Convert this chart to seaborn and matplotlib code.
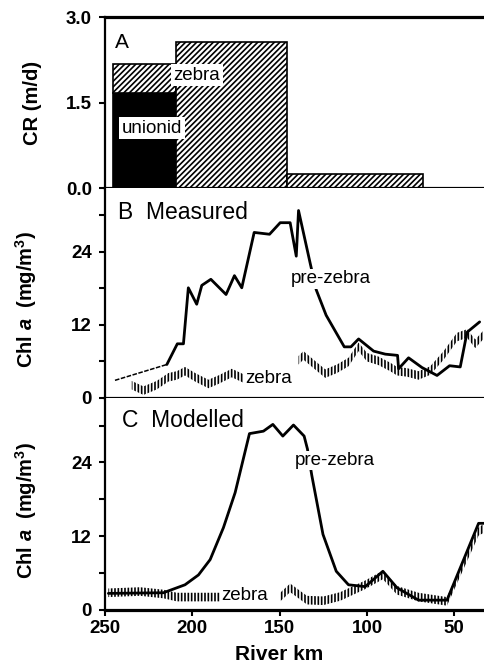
import numpy as np
import pandas as pd
import matplotlib
matplotlib.use("Agg")
import matplotlib.pyplot as plt
import seaborn as sns

# ---------------- data ----------------
# Panel A: clearance rate by river reach
reach_start_km = [245.4, 209.3, 145.7]
reach_end_km = [209.3, 145.7, 67.8]
unionid_cr = [1.67, 0.0, 0.0]
zebra_cr = [0.50, 2.56, 0.25]

# Panel B: measured chlorophyll a
meas_pre_km = [244.3, 214.6, 208.6, 205.1, 202.3, 197.5, 194.6, 189.4, 180.7, 175.9,
               171.7, 164.6, 155.8, 149.7, 144.0, 140.5, 139.2, 132.5, 129.1, 123.4,
               113.0, 109.2, 104.8, 96.2, 89.5, 82.5, 81.9, 76.2, 68.5, 59.9,
               52.7, 46.6, 42.7, 35.5]
meas_pre_chl = [2.9, 5.5, 8.9, 8.9, 18.1, 15.4, 18.5, 19.5, 17.0, 20.1,
                18.1, 27.2, 26.9, 28.8, 28.8, 23.3, 30.8, 22.1, 17.8, 13.6,
                8.4, 8.4, 9.7, 7.7, 7.2, 7.0, 4.8, 6.6, 5.0, 3.7,
                5.3, 5.1, 10.8, 12.5]
meas_zebra_km = [234.7, 228.0, 220.4, 213.7, 208.9, 204.2, 198.4, 190.8, 185.1, 177.4,
                 170.7, np.nan, 139.2, 136.4, 130.6, 123.9, 117.2, 110.6, 104.8, 100.0,
                 93.4, 86.7, 82.8, 77.1, 70.5, 63.8, 56.1, 48.5, 42.7, 38.0, 33.6]
meas_zebra_chl = [2.1, 1.2, 2.1, 3.4, 3.7, 4.4, 3.4, 2.3, 3.0, 4.1,
                  3.2, np.nan, 6.2, 7.0, 5.6, 4.0, 4.8, 5.9, 8.4, 6.7,
                  6.1, 5.1, 4.4, 4.2, 3.7, 4.5, 7.0, 10.0, 10.6, 8.9, 10.3]

# Panel C: modelled chlorophyll a
mod_pre_km = [248.1, 216.6, 204.2, 196.5, 189.8, 182.2, 175.5, 167.3, 159.3, 153.9,
              148.2, 142.1, 136.0, 134.1, 131.6, 125.2, 117.6, 110.6, 101.0, 90.9,
              82.8, 70.5, 54.2, 36.1, 33.0]
mod_pre_chl = [2.7, 2.8, 4.1, 5.7, 8.2, 13.4, 19.1, 28.7, 29.1, 30.2,
               28.3, 30.1, 28.3, 26.2, 21.9, 12.3, 6.3, 4.1, 3.8, 6.3,
               3.6, 1.6, 1.6, 14.1, 14.1]
mod_zebra_km = [248.1, 229.9, 216.6, 208.9, 195.6, 184.1, np.nan, 149.7, 144.0, 134.4,
                124.9, 115.3, 101.0, 90.9, 82.8, 70.5, 54.2, 36.1, 33.5]
mod_zebra_chl = [2.8, 3.0, 2.6, 2.1, 2.1, 2.1, np.nan, 2.1, 3.6, 1.6,
                 1.5, 2.2, 4.1, 5.7, 3.2, 2.1, 1.4, 12.8, 13.2]

x_ticks = [250, 200, 150, 100, 50]
cr_ticks = [0.0, 1.5, 3.0]
cr_tick_labels = ["0.0", "1.5", "3.0"]
chl_ticks = [0, 6, 12, 18, 24, 30]
chl_tick_labels = ["0", "", "12", "", "24", ""]

# ---------------- style ----------------
sns.set_style("ticks")
plt.rcParams["font.family"] = ["Liberation Sans", "DejaVu Sans"]
plt.rcParams["mathtext.fontset"] = "custom"
plt.rcParams["mathtext.rm"] = "Liberation Sans:bold"
plt.rcParams["mathtext.it"] = "Liberation Sans:italic:bold"
plt.rcParams["mathtext.bf"] = "Liberation Sans:bold"
plt.rcParams["hatch.linewidth"] = 1.2
for key in ("text.color", "axes.labelcolor", "xtick.color", "ytick.color",
            "axes.edgecolor"):
    plt.rcParams[key] = "black"

fig = plt.figure(figsize=(4.84, 6.70), dpi=100)
left, width = 0.217, 0.783
axA = fig.add_axes([left, 0.7194, width, 0.2552])
axB = fig.add_axes([left, 0.4060, width, 0.3134])
axC = fig.add_axes([left, 0.0896, width, 0.3164])

XLIM = (250, 33)
TICKFS = 13.5
LABELFS = 14.5
ANNFS = 13.5
white_box = dict(facecolor="white", edgecolor="none", pad=1.0)

for ax in (axA, axB, axC):
    ax.set_xlim(*XLIM)
    ax.spines["right"].set_visible(False)
    ax.spines["left"].set_linewidth(1.6)
    ax.spines["bottom"].set_linewidth(2.3)
    ax.tick_params(axis="y", direction="out", length=4.5, width=1.5, pad=5,
                   colors="black")
    ax.tick_params(axis="x", direction="out", length=4.5, width=1.5, pad=3,
                   colors="black")

# ---------------- panel A ----------------
starts = np.array(reach_start_km)
ends = np.array(reach_end_km)
edges_lo = np.minimum(starts, ends)
widths = np.abs(starts - ends)
uni = np.array(unionid_cr)
zeb = np.array(zebra_cr)
axA.bar(edges_lo, uni, width=widths, align="edge", color="black",
        edgecolor="black", linewidth=1.2, zorder=2)
axA.bar(edges_lo, zeb, width=widths, bottom=uni, align="edge", facecolor="white",
        edgecolor="black", hatch="//////", linewidth=1.2, zorder=2)
axA.set_ylim(0, 3.0)
axA.spines["top"].set_linewidth(2.3)
axA.set_yticks(cr_ticks, cr_tick_labels, fontsize=TICKFS, fontweight="bold")
axA.set_xticks([])
axA.set_ylabel("CR (m/d)", fontsize=LABELFS, fontweight="bold")
axA.yaxis.set_label_coords(-0.165, 0.5)
axA.text(0.026, 0.85, "A", transform=axA.transAxes, fontsize=15,
         ha="left", va="center")
axA.text(197.3, 1.98, "zebra", fontsize=ANNFS, ha="center", va="center",
         bbox=dict(facecolor="white", edgecolor="none", pad=2.0), zorder=5)
axA.text(223.0, 1.05, "unionid", fontsize=ANNFS, ha="center", va="center",
         bbox=dict(facecolor="white", edgecolor="none", pad=2.0), zorder=5)


def hatched_band(ax, km, chl, half=0.7):
    km = np.asarray(km, dtype=float)
    chl = np.asarray(chl, dtype=float)
    ax.fill_between(km, chl - half, chl + half, facecolor="none",
                    edgecolor="black", hatch="|||||", linewidth=0, zorder=2)


def chl_axis(ax):
    ax.set_ylim(0, 34.5)
    ax.spines["top"].set_visible(False)
    ax.set_yticks(chl_ticks, chl_tick_labels, fontsize=TICKFS, fontweight="bold")
    ax.set_ylabel(r"Chl $\mathit{a}$  (mg/m$^{3}$)", fontsize=LABELFS,
                  fontweight="bold")
    ax.yaxis.set_label_coords(-0.175, 0.47)


# ---------------- panel B ----------------
hatched_band(axB, meas_zebra_km, meas_zebra_chl)
pre_b = pd.DataFrame({"km": meas_pre_km, "chl": meas_pre_chl})
sns.lineplot(data=pre_b.iloc[:2], x="km", y="chl", ax=axB, color="black",
             linewidth=1.1, linestyle=(0, (3, 1)), sort=False, estimator=None,
             zorder=3)
sns.lineplot(data=pre_b.iloc[1:], x="km", y="chl", ax=axB, color="black",
             linewidth=2.0, sort=False, estimator=None, zorder=3)
chl_axis(axB)
axB.set_xticks([])
axB.set_xlabel("")
axB.text(0.034, 0.885, "B  Measured", transform=axB.transAxes, fontsize=16.5,
         ha="left", va="center")
axB.text(120.5, 19.6, "pre-zebra", fontsize=ANNFS, ha="center", va="center",
         bbox=white_box, zorder=5)
axB.text(156.6, 3.2, "zebra", fontsize=ANNFS, ha="center", va="center",
         bbox=white_box, zorder=5)

# ---------------- panel C ----------------
hatched_band(axC, mod_zebra_km, mod_zebra_chl)
pre_c = pd.DataFrame({"km": mod_pre_km, "chl": mod_pre_chl})
sns.lineplot(data=pre_c, x="km", y="chl", ax=axC, color="black",
             linewidth=2.0, sort=False, estimator=None, zorder=3)
chl_axis(axC)
axC.set_xticks(x_ticks, [str(t) for t in x_ticks], fontsize=TICKFS,
               fontweight="bold")
axC.set_xlabel("River km", fontsize=15, fontweight="bold")
axC.xaxis.set_label_coords(0.46, -0.165)
axC.text(0.045, 0.895, "C  Modelled", transform=axC.transAxes, fontsize=16.5,
         ha="left", va="center")
axC.text(118.2, 24.3, "pre-zebra", fontsize=ANNFS, ha="center", va="center",
         bbox=white_box, zorder=5)
axC.text(169.8, 2.3, "zebra", fontsize=ANNFS, ha="center", va="center",
         bbox=white_box, zorder=5)

fig.savefig("out.png", dpi=100)
